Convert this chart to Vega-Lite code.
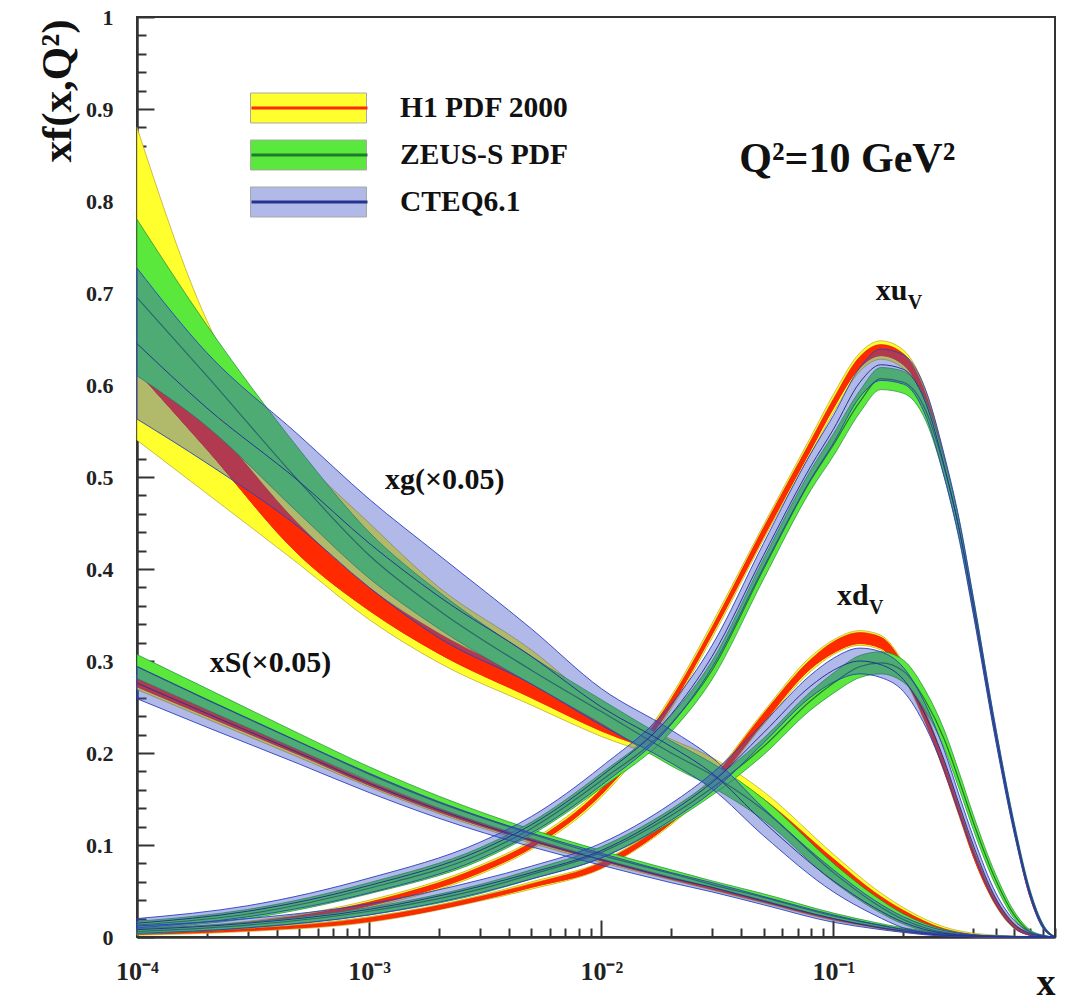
{
"$schema": "https://vega.github.io/schema/vega-lite/v6.json",
"width": 918, "height": 920,
"autosize": {"type": "none"},
"padding": {"left": 137, "top": 17, "right": 12, "bottom": 66},
"background": "white",
"config": {
  "view": {"stroke": "#333", "strokeWidth": 2},
  "font": "Liberation Serif",
  "legend": {"orient": "none", "legendX": 113, "legendY": 71, "padding": 0, "clipHeight": 40, "rowPadding": 7, "symbolSize": 13456, "labelOffset": 33, "labelFont": "Liberation Serif", "labelFontWeight": "bold", "labelFontSize": 29.5, "labelColor": "#111", "title": null, "labelLimit": 400}
},
"datasets": {"pdf": [
{"d":"xg","x":0.0001,"hlo":0.54,"hhi":0.88,"helo":0.615,"hehi":0.65,"zlo":0.61,"zhi":0.78,"zc":0.695,"clo":0.563,"chi":0.727,"cc":0.645},
{"d":"xg","x":0.0002,"hlo":0.482,"hhi":0.67,"helo":0.53,"hehi":0.565,"zlo":0.555,"zhi":0.665,"zc":0.61,"clo":0.515,"chi":0.635,"cc":0.575},
{"d":"xg","x":0.0005,"hlo":0.405,"hhi":0.525,"helo":0.415,"hehi":0.448,"zlo":0.46,"zhi":0.53,"zc":0.495,"clo":0.445,"chi":0.545,"cc":0.495},
{"d":"xg","x":0.001,"hlo":0.345,"hhi":0.45,"helo":0.355,"hehi":0.38,"zlo":0.39,"zhi":0.44,"zc":0.415,"clo":0.38,"chi":0.476,"cc":0.428},
{"d":"xg","x":0.002,"hlo":0.298,"hhi":0.38,"helo":0.308,"hehi":0.33,"zlo":0.335,"zhi":0.375,"zc":0.355,"clo":0.325,"chi":0.415,"cc":0.37},
{"d":"xg","x":0.005,"hlo":0.252,"hhi":0.312,"helo":0.26,"hehi":0.28,"zlo":0.275,"zhi":0.305,"zc":0.29,"clo":0.275,"chi":0.335,"cc":0.305},
{"d":"xg","x":0.01,"hlo":0.218,"hhi":0.252,"helo":0.224,"hehi":0.24,"zlo":0.232,"zhi":0.258,"zc":0.245,"clo":0.23,"chi":0.27,"cc":0.25},
{"d":"xg","x":0.02,"hlo":0.19,"hhi":0.215,"helo":0.195,"hehi":0.207,"zlo":0.186,"zhi":0.213,"zc":0.2,"clo":0.189,"chi":0.225,"cc":0.207},
{"d":"xg","x":0.03,"hlo":0.168,"hhi":0.195,"helo":0.173,"hehi":0.187,"zlo":0.163,"zhi":0.189,"zc":0.176,"clo":0.161,"chi":0.195,"cc":0.178},
{"d":"xg","x":0.05,"hlo":0.133,"hhi":0.158,"helo":0.137,"hehi":0.15,"zlo":0.127,"zhi":0.15,"zc":0.138,"clo":0.11,"chi":0.14,"cc":0.125},
{"d":"xg","x":0.1,"hlo":0.073,"hhi":0.09,"helo":0.076,"hehi":0.085,"zlo":0.06,"zhi":0.08,"zc":0.07,"clo":0.049,"chi":0.073,"cc":0.061},
{"d":"xg","x":0.15,"hlo":0.04,"hhi":0.053,"helo":0.042,"hehi":0.049,"zlo":0.03,"zhi":0.045,"zc":0.037,"clo":0.024,"chi":0.04,"cc":0.032},
{"d":"xg","x":0.2,"hlo":0.022,"hhi":0.032,"helo":0.024,"hehi":0.029,"zlo":0.014,"zhi":0.025,"zc":0.019,"clo":0.01,"chi":0.022,"cc":0.016},
{"d":"xg","x":0.3,"hlo":0.006,"hhi":0.011,"helo":0.007,"hehi":0.009,"zlo":0.003,"zhi":0.008,"zc":0.005,"clo":0.002,"chi":0.007,"cc":0.004},
{"d":"xg","x":0.5,"hlo":0,"hhi":0.002,"helo":0,"hehi":0.001,"zlo":0,"zhi":0.001,"zc":0.0005,"clo":0,"chi":0.001,"cc":0.0005},
{"d":"xg","x":0.9,"hlo":0,"hhi":0,"helo":0,"hehi":0,"zlo":0,"zhi":0,"zc":0,"clo":0,"chi":0,"cc":0},

{"d":"xS","x":0.0001,"hlo":0.269,"hhi":0.285,"helo":0.272,"hehi":0.281,"zlo":0.281,"zhi":0.307,"zc":0.294,"clo":0.259,"chi":0.294,"cc":0.276},
{"d":"xS","x":0.0002,"hlo":0.237,"hhi":0.251,"helo":0.24,"hehi":0.247,"zlo":0.247,"zhi":0.27,"zc":0.258,"clo":0.228,"chi":0.258,"cc":0.243},
{"d":"xS","x":0.0005,"hlo":0.195,"hhi":0.206,"helo":0.198,"hehi":0.203,"zlo":0.203,"zhi":0.221,"zc":0.212,"clo":0.188,"chi":0.212,"cc":0.2},
{"d":"xS","x":0.001,"hlo":0.163,"hhi":0.172,"helo":0.165,"hehi":0.169,"zlo":0.17,"zhi":0.185,"zc":0.177,"clo":0.157,"chi":0.178,"cc":0.167},
{"d":"xS","x":0.002,"hlo":0.134,"hhi":0.142,"helo":0.136,"hehi":0.14,"zlo":0.14,"zhi":0.153,"zc":0.146,"clo":0.129,"chi":0.147,"cc":0.138},
{"d":"xS","x":0.005,"hlo":0.102,"hhi":0.109,"helo":0.104,"hehi":0.107,"zlo":0.107,"zhi":0.117,"zc":0.112,"clo":0.098,"chi":0.113,"cc":0.105},
{"d":"xS","x":0.01,"hlo":0.081,"hhi":0.087,"helo":0.083,"hehi":0.086,"zlo":0.085,"zhi":0.094,"zc":0.089,"clo":0.078,"chi":0.091,"cc":0.084},
{"d":"xS","x":0.02,"hlo":0.062,"hhi":0.067,"helo":0.063,"hehi":0.066,"zlo":0.065,"zhi":0.073,"zc":0.069,"clo":0.059,"chi":0.07,"cc":0.064},
{"d":"xS","x":0.03,"hlo":0.051,"hhi":0.056,"helo":0.052,"hehi":0.055,"zlo":0.054,"zhi":0.061,"zc":0.057,"clo":0.049,"chi":0.059,"cc":0.054},
{"d":"xS","x":0.05,"hlo":0.037,"hhi":0.042,"helo":0.038,"hehi":0.041,"zlo":0.04,"zhi":0.047,"zc":0.043,"clo":0.035,"chi":0.044,"cc":0.039},
{"d":"xS","x":0.1,"hlo":0.018,"hhi":0.022,"helo":0.019,"hehi":0.021,"zlo":0.02,"zhi":0.026,"zc":0.023,"clo":0.016,"chi":0.024,"cc":0.02},
{"d":"xS","x":0.15,"hlo":0.01,"hhi":0.013,"helo":0.011,"hehi":0.012,"zlo":0.012,"zhi":0.016,"zc":0.014,"clo":0.009,"chi":0.014,"cc":0.011},
{"d":"xS","x":0.2,"hlo":0.0055,"hhi":0.0075,"helo":0.006,"hehi":0.007,"zlo":0.007,"zhi":0.01,"zc":0.0085,"clo":0.005,"chi":0.008,"cc":0.0065},
{"d":"xS","x":0.3,"hlo":0.0016,"hhi":0.0026,"helo":0.0018,"hehi":0.0024,"zlo":0.002,"zhi":0.004,"zc":0.003,"clo":0.001,"chi":0.003,"cc":0.002},
{"d":"xS","x":0.5,"hlo":0,"hhi":0.0005,"helo":0,"hehi":0.0003,"zlo":0,"zhi":0.001,"zc":0.0005,"clo":0,"chi":0.001,"cc":0.0005},
{"d":"xS","x":0.9,"hlo":0,"hhi":0,"helo":0,"hehi":0,"zlo":0,"zhi":0,"zc":0,"clo":0,"chi":0,"cc":0},

{"d":"xuv","x":0.0001,"hlo":0.003,"hhi":0.009,"helo":0.0045,"hehi":0.0075,"zlo":0.009,"zhi":0.017,"zc":0.013,"clo":0.01,"chi":0.02,"cc":0.015},
{"d":"xuv","x":0.0003,"hlo":0.011,"hhi":0.017,"helo":0.012,"hehi":0.016,"zlo":0.02,"zhi":0.03,"zc":0.025,"clo":0.022,"chi":0.034,"cc":0.028},
{"d":"xuv","x":0.001,"hlo":0.032,"hhi":0.04,"helo":0.034,"hehi":0.038,"zlo":0.047,"zhi":0.059,"zc":0.053,"clo":0.048,"chi":0.064,"cc":0.056},
{"d":"xuv","x":0.003,"hlo":0.068,"hhi":0.078,"helo":0.07,"hehi":0.076,"zlo":0.083,"zhi":0.097,"zc":0.09,"clo":0.085,"chi":0.103,"cc":0.094},
{"d":"xuv","x":0.005,"hlo":0.095,"hhi":0.105,"helo":0.097,"hehi":0.103,"zlo":0.111,"zhi":0.125,"zc":0.118,"clo":0.113,"chi":0.131,"cc":0.122},
{"d":"xuv","x":0.01,"hlo":0.152,"hhi":0.164,"helo":0.155,"hehi":0.161,"zlo":0.162,"zhi":0.178,"zc":0.17,"clo":0.165,"chi":0.185,"cc":0.175},
{"d":"xuv","x":0.02,"hlo":0.248,"hhi":0.262,"helo":0.251,"hehi":0.259,"zlo":0.223,"zhi":0.241,"zc":0.232,"clo":0.231,"chi":0.253,"cc":0.242},
{"d":"xuv","x":0.03,"hlo":0.325,"hhi":0.341,"helo":0.329,"hehi":0.337,"zlo":0.28,"zhi":0.3,"zc":0.29,"clo":0.293,"chi":0.317,"cc":0.305},
{"d":"xuv","x":0.05,"hlo":0.432,"hhi":0.448,"helo":0.435,"hehi":0.445,"zlo":0.389,"zhi":0.411,"zc":0.4,"clo":0.402,"chi":0.428,"cc":0.415},
{"d":"xuv","x":0.08,"hlo":0.526,"hhi":0.544,"helo":0.53,"hehi":0.54,"zlo":0.486,"zhi":0.508,"zc":0.497,"clo":0.498,"chi":0.526,"cc":0.512},
{"d":"xuv","x":0.1,"hlo":0.57,"hhi":0.59,"helo":0.575,"hehi":0.585,"zlo":0.523,"zhi":0.547,"zc":0.535,"clo":0.537,"chi":0.567,"cc":0.552},
{"d":"xuv","x":0.13,"hlo":0.615,"hhi":0.635,"helo":0.619,"hehi":0.631,"zlo":0.57,"zhi":0.594,"zc":0.582,"clo":0.587,"chi":0.619,"cc":0.603},
{"d":"xuv","x":0.16,"hlo":0.628,"hhi":0.648,"helo":0.632,"hehi":0.644,"zlo":0.595,"zhi":0.619,"zc":0.607,"clo":0.605,"chi":0.639,"cc":0.622},
{"d":"xuv","x":0.2,"hlo":0.618,"hhi":0.638,"helo":0.622,"hehi":0.634,"zlo":0.591,"zhi":0.615,"zc":0.603,"clo":0.601,"chi":0.633,"cc":0.617},
{"d":"xuv","x":0.25,"hlo":0.576,"hhi":0.594,"helo":0.58,"hehi":0.59,"zlo":0.561,"zhi":0.583,"zc":0.572,"clo":0.566,"chi":0.594,"cc":0.58},
{"d":"xuv","x":0.3,"hlo":0.507,"hhi":0.523,"helo":0.51,"hehi":0.52,"zlo":0.5,"zhi":0.52,"zc":0.51,"clo":0.5,"chi":0.524,"cc":0.512},
{"d":"xuv","x":0.35,"hlo":0.433,"hhi":0.447,"helo":0.436,"hehi":0.444,"zlo":0.431,"zhi":0.449,"zc":0.44,"clo":0.429,"chi":0.451,"cc":0.44},
{"d":"xuv","x":0.4,"hlo":0.354,"hhi":0.366,"helo":0.356,"hehi":0.364,"zlo":0.354,"zhi":0.37,"zc":0.362,"clo":0.351,"chi":0.369,"cc":0.36},
{"d":"xuv","x":0.5,"hlo":0.215,"hhi":0.225,"helo":0.217,"hehi":0.223,"zlo":0.216,"zhi":0.228,"zc":0.222,"clo":0.213,"chi":0.227,"cc":0.22},
{"d":"xuv","x":0.6,"hlo":0.114,"hhi":0.122,"helo":0.116,"hehi":0.12,"zlo":0.115,"zhi":0.125,"zc":0.12,"clo":0.113,"chi":0.123,"cc":0.118},
{"d":"xuv","x":0.7,"hlo":0.044,"hhi":0.05,"helo":0.045,"hehi":0.049,"zlo":0.047,"zhi":0.053,"zc":0.05,"clo":0.045,"chi":0.051,"cc":0.048},
{"d":"xuv","x":0.8,"hlo":0.01,"hhi":0.012,"helo":0.0105,"hehi":0.0115,"zlo":0.01,"zhi":0.014,"zc":0.012,"clo":0.009,"chi":0.013,"cc":0.011},
{"d":"xuv","x":0.9,"hlo":0,"hhi":0,"helo":0,"hehi":0,"zlo":0,"zhi":0,"zc":0,"clo":0,"chi":0,"cc":0},

{"d":"xdv","x":0.0001,"hlo":0.002,"hhi":0.006,"helo":0.003,"hehi":0.005,"zlo":0.003,"zhi":0.009,"zc":0.006,"clo":0.004,"chi":0.012,"cc":0.008},
{"d":"xdv","x":0.0003,"hlo":0.006,"hhi":0.01,"helo":0.007,"hehi":0.009,"zlo":0.01,"zhi":0.016,"zc":0.013,"clo":0.01,"chi":0.02,"cc":0.015},
{"d":"xdv","x":0.001,"hlo":0.016,"hhi":0.022,"helo":0.017,"hehi":0.021,"zlo":0.024,"zhi":0.032,"zc":0.028,"clo":0.024,"chi":0.036,"cc":0.03},
{"d":"xdv","x":0.003,"hlo":0.039,"hhi":0.045,"helo":0.04,"hehi":0.044,"zlo":0.047,"zhi":0.057,"zc":0.052,"clo":0.048,"chi":0.062,"cc":0.055},
{"d":"xdv","x":0.005,"hlo":0.052,"hhi":0.06,"helo":0.054,"hehi":0.058,"zlo":0.063,"zhi":0.073,"zc":0.068,"clo":0.063,"chi":0.077,"cc":0.07},
{"d":"xdv","x":0.01,"hlo":0.074,"hhi":0.082,"helo":0.075,"hehi":0.081,"zlo":0.086,"zhi":0.098,"zc":0.092,"clo":0.086,"chi":0.102,"cc":0.094},
{"d":"xdv","x":0.02,"hlo":0.122,"hhi":0.132,"helo":0.124,"hehi":0.13,"zlo":0.125,"zhi":0.139,"zc":0.132,"clo":0.127,"chi":0.145,"cc":0.136},
{"d":"xdv","x":0.03,"hlo":0.162,"hhi":0.174,"helo":0.164,"hehi":0.172,"zlo":0.154,"zhi":0.17,"zc":0.162,"clo":0.158,"chi":0.178,"cc":0.168},
{"d":"xdv","x":0.05,"hlo":0.231,"hhi":0.245,"helo":0.233,"hehi":0.243,"zlo":0.198,"zhi":0.216,"zc":0.207,"clo":0.211,"chi":0.233,"cc":0.222},
{"d":"xdv","x":0.08,"hlo":0.289,"hhi":0.305,"helo":0.292,"hehi":0.302,"zlo":0.247,"zhi":0.267,"zc":0.257,"clo":0.261,"chi":0.285,"cc":0.273},
{"d":"xdv","x":0.1,"hlo":0.307,"hhi":0.323,"helo":0.309,"hehi":0.321,"zlo":0.265,"zhi":0.287,"zc":0.276,"clo":0.277,"chi":0.303,"cc":0.29},
{"d":"xdv","x":0.13,"hlo":0.317,"hhi":0.333,"helo":0.319,"hehi":0.331,"zlo":0.282,"zhi":0.306,"zc":0.294,"clo":0.286,"chi":0.314,"cc":0.3},
{"d":"xdv","x":0.16,"hlo":0.312,"hhi":0.328,"helo":0.314,"hehi":0.326,"zlo":0.286,"zhi":0.31,"zc":0.298,"clo":0.282,"chi":0.31,"cc":0.296},
{"d":"xdv","x":0.2,"hlo":0.282,"hhi":0.298,"helo":0.284,"hehi":0.296,"zlo":0.277,"zhi":0.301,"zc":0.289,"clo":0.267,"chi":0.293,"cc":0.28},
{"d":"xdv","x":0.25,"hlo":0.231,"hhi":0.245,"helo":0.233,"hehi":0.243,"zlo":0.245,"zhi":0.267,"zc":0.256,"clo":0.228,"chi":0.252,"cc":0.24},
{"d":"xdv","x":0.3,"hlo":0.179,"hhi":0.191,"helo":0.18,"hehi":0.19,"zlo":0.205,"zhi":0.225,"zc":0.215,"clo":0.181,"chi":0.203,"cc":0.192},
{"d":"xdv","x":0.35,"hlo":0.129,"hhi":0.141,"helo":0.131,"hehi":0.139,"zlo":0.159,"zhi":0.177,"zc":0.168,"clo":0.132,"chi":0.152,"cc":0.142},
{"d":"xdv","x":0.4,"hlo":0.087,"hhi":0.097,"helo":0.088,"hehi":0.096,"zlo":0.117,"zhi":0.133,"zc":0.125,"clo":0.091,"chi":0.109,"cc":0.1},
{"d":"xdv","x":0.5,"hlo":0.034,"hhi":0.042,"helo":0.035,"hehi":0.041,"zlo":0.056,"zhi":0.068,"zc":0.062,"clo":0.036,"chi":0.048,"cc":0.042},
{"d":"xdv","x":0.6,"hlo":0.009,"hhi":0.015,"helo":0.01,"hehi":0.014,"zlo":0.02,"zhi":0.028,"zc":0.024,"clo":0.01,"chi":0.018,"cc":0.014},
{"d":"xdv","x":0.7,"hlo":0.002,"hhi":0.004,"helo":0.002,"hehi":0.004,"zlo":0.004,"zhi":0.008,"zc":0.006,"clo":0.002,"chi":0.006,"cc":0.004},
{"d":"xdv","x":0.8,"hlo":0,"hhi":0.001,"helo":0.0002,"hehi":0.0008,"zlo":0,"zhi":0.002,"zc":0.001,"clo":0,"chi":0.0016,"cc":0.0008},
{"d":"xdv","x":0.9,"hlo":0,"hhi":0,"helo":0,"hehi":0,"zlo":0,"zhi":0,"zc":0,"clo":0,"chi":0,"cc":0}
]},
"data": {"name": "pdf"},
"encoding": {
  "x": {"field": "x", "type": "quantitative",
    "scale": {"type": "log", "domain": [0.0001, 0.9]},
    "axis": {
      "values": [0.0001,0.0002,0.0003,0.0004,0.0005,0.0006,0.0007,0.0008,0.0009,0.001,0.002,0.003,0.004,0.005,0.006,0.007,0.008,0.009,0.01,0.02,0.03,0.04,0.05,0.06,0.07,0.08,0.09,0.1,0.2,0.3,0.4,0.5,0.6,0.7,0.8,0.9],
      "tickCount": 200,
      "tickSize": {"condition": {"test": "datum.value == 0.0001 || datum.value == 0.001 || datum.value == 0.01 || datum.value == 0.1", "value": -17}, "value": -9},
      "tickColor": "#333", "tickWidth": 2,
      "labelExpr": "datum.value == 0.0001 ? '10⁻⁴' : datum.value == 0.001 ? '10⁻³' : datum.value == 0.01 ? '10⁻²' : datum.value == 0.1 ? '10⁻¹' : ''",
      "labelFont": "Liberation Serif", "labelFontSize": 26, "labelFontWeight": "bold", "labelColor": "#222",
      "labelPadding": 38, "labelFlush": false, "labelOverlap": false,
      "domainColor": "#333", "domainWidth": 2.5, "grid": false,
      "title": "x", "titleFont": "Liberation Serif", "titleFontSize": 38, "titleFontWeight": "bold", "titleColor": "#111",
      "titleX": 918, "titleY": 57, "titleAlign": "right", "titleBaseline": "alphabetic", "titleAnchor": "end"
    }
  }
},
"layer": [
  {"mark": {"type": "area", "interpolate": "monotone", "stroke": "#b8a020", "strokeWidth": 0.7},
   "encoding": {
     "y": {"field": "hlo", "type": "quantitative", "title": "xf(x,Q²)",
       "scale": {"domain": [0, 1], "nice": false},
       "axis": {
         "values": [0,0.02,0.04,0.06,0.08,0.1,0.12,0.14,0.16,0.18,0.2,0.22,0.24,0.26,0.28,0.3,0.32,0.34,0.36,0.38,0.4,0.42,0.44,0.46,0.48,0.5,0.52,0.54,0.56,0.58,0.6,0.62,0.64,0.66,0.68,0.7,0.72,0.74,0.76,0.78,0.8,0.82,0.84,0.86,0.88,0.9,0.92,0.94,0.96,0.98,1],
         "tickCount": 200,
         "tickSize": {"condition": {"test": "abs(datum.value*10 - round(datum.value*10)) < 0.001", "value": -17}, "value": -9},
         "tickColor": "#333", "tickWidth": 2,
         "format": ".1~f",
         "labelExpr": "abs(datum.value*10 - round(datum.value*10)) < 0.001 ? datum.label : ''",
         "labelFont": "Liberation Serif", "labelFontSize": 22, "labelFontWeight": "bold", "labelColor": "#222",
         "labelPadding": 41, "labelFlush": false, "labelOverlap": false,
         "domainColor": "#333", "domainWidth": 2.5, "grid": false,
         "titleFont": "Liberation Serif", "titleFontSize": 43, "titleFontWeight": "bold", "titleColor": "#111",
         "titleX": -67, "titleY": 2, "titleAngle": 270, "titleAlign": "right", "titleBaseline": "alphabetic"
       }},
     "y2": {"field": "hhi"},
     "detail": {"field": "d"},
     "color": {"datum": "H1 PDF 2000", "type": "nominal",
       "scale": {"domain": ["H1 PDF 2000", "ZEUS-S PDF", "CTEQ6.1"], "range": ["#ffff2e", "#5ae83c", "rgba(60,80,200,0.40)"]},
       "legend": {"symbolType": "M-1,-0.2586H1V0.2586H-1Z", "symbolStrokeColor": "#aaa", "symbolStrokeWidth": 1,
         "encode": {"symbols": {"update": {"stroke": {"value": "#a8a8a8"}, "strokeWidth": {"value": 1}}}}}}
   }},
  {"mark": {"type": "area", "interpolate": "monotone", "fill": "#ff2a00", "stroke": "#c01800", "strokeWidth": 0.5},
   "encoding": {
     "y": {"field": "helo", "type": "quantitative", "title": "xf(x,Q²)"},
     "y2": {"field": "hehi"},
     "detail": {"field": "d"}
   }},
  {"mark": {"type": "line", "interpolate": "monotone", "strokeWidth": 1},
   "encoding": {
     "y": {"field": "helo", "type": "quantitative", "title": "xf(x,Q²)"},
     "detail": {"field": "d"},
     "stroke": {"datum": "H1 line", "type": "nominal",
       "scale": {"domain": ["H1 line", "ZEUS line", "CTEQ line"], "range": ["#ff2a00", "#1f7a2e", "#27348f"]},
       "legend": {"symbolType": "stroke", "symbolStrokeWidth": 3, "labelExpr": "''"}}
   }},
  {"mark": {"type": "area", "interpolate": "monotone", "stroke": "#1d8a3a", "strokeWidth": 0.7},
   "encoding": {
     "y": {"field": "zlo", "type": "quantitative", "title": "xf(x,Q²)"},
     "y2": {"field": "zhi"},
     "detail": {"field": "d"},
     "color": {"datum": "ZEUS-S PDF", "type": "nominal"}
   }},
  {"mark": {"type": "line", "interpolate": "monotone", "strokeWidth": 1.2},
   "encoding": {
     "y": {"field": "zc", "type": "quantitative", "title": "xf(x,Q²)"},
     "detail": {"field": "d"},
     "stroke": {"datum": "ZEUS line", "type": "nominal"}
   }},
  {"mark": {"type": "area", "interpolate": "monotone", "stroke": "#2b3fc0", "strokeWidth": 0.9},
   "encoding": {
     "y": {"field": "clo", "type": "quantitative", "title": "xf(x,Q²)"},
     "y2": {"field": "chi"},
     "detail": {"field": "d"},
     "color": {"datum": "CTEQ6.1", "type": "nominal"}
   }},
  {"mark": {"type": "line", "interpolate": "monotone", "strokeWidth": 1},
   "encoding": {
     "y": {"field": "cc", "type": "quantitative", "title": "xf(x,Q²)"},
     "detail": {"field": "d"},
     "stroke": {"datum": "CTEQ line", "type": "nominal"}
   }},
  {"data": {"values": [
     {"label": "xg(×0.05)", "x": 0.00117, "y": 0.487},
     {"label": "xS(×0.05)", "x": 0.000206, "y": 0.288},
     {"label": "xu", "x": 0.152, "y": 0.692},
     {"label": "xd", "x": 0.1035, "y": 0.361}
   ]},
   "mark": {"type": "text", "align": "left", "baseline": "alphabetic", "font": "Liberation Serif", "fontWeight": "bold", "fontSize": 30, "color": "#111"},
   "encoding": {
     "y": {"field": "y", "type": "quantitative", "title": "xf(x,Q²)"},
     "text": {"field": "label"}
   }},
  {"data": {"values": [
     {"label": "V", "x": 0.152, "y": 0.692},
     {"label": "V", "x": 0.1035, "y": 0.361}
   ]},
   "mark": {"type": "text", "align": "left", "baseline": "alphabetic", "font": "Liberation Serif", "fontWeight": "bold", "fontSize": 20, "dx": 32, "dy": 9, "color": "#111"},
   "encoding": {
     "y": {"field": "y", "type": "quantitative", "title": "xf(x,Q²)"},
     "text": {"field": "label"}
   }},
  {"data": {"values": [
     {"label": "Q²=10 GeV²", "x": 0.0393, "y": 0.832}
   ]},
   "mark": {"type": "text", "align": "left", "baseline": "alphabetic", "font": "Liberation Serif", "fontWeight": "bold", "fontSize": 42, "color": "#111"},
   "encoding": {
     "y": {"field": "y", "type": "quantitative", "title": "xf(x,Q²)"},
     "text": {"field": "label"}
   }}
]
}
